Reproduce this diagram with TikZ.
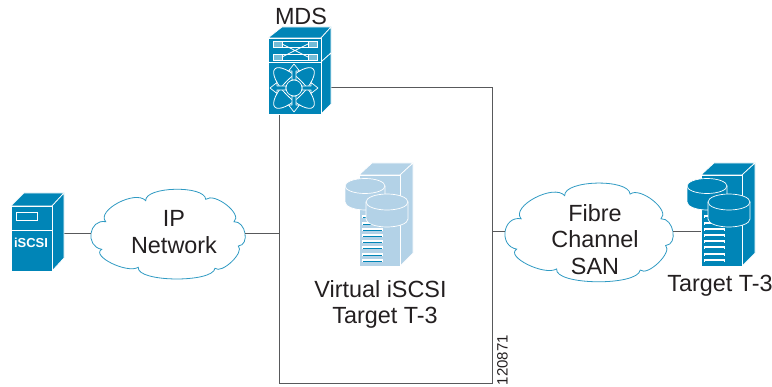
\documentclass[tikz,border=0pt]{standalone}
\usepackage{fontspec}
\setmainfont{Liberation Sans}
\usepackage{xcolor}
\definecolor{ciscoblue}{HTML}{0085B7}
\definecolor{paleblue}{HTML}{B3D2E7}
\definecolor{cloudline}{HTML}{2F9AC3}
\definecolor{linegray}{HTML}{58595B}
\definecolor{inkgray}{HTML}{231F20}
\tikzset{
  label/.style={font=\fontsize{23.4}{26.5}\selectfont,text=inkgray,align=center,inner sep=0pt},
  anchorbox/.style={inner sep=0pt,minimum width=#1},
  link/.style={draw=linegray,line width=1.3pt},
  face/.style={fill=#1,draw=white,line width=0.7pt,line join=round},
  puffs/.pic={
    \draw[draw=cloudline,line width=0.8pt,fill=white] (-62.3,-14.3)
      .. controls (-72.2,-25.6) and (-32.2,-46.6) .. (-22.3,-35.3)
      .. controls (-23.2,-49.6) and (36.8,-51) .. (37.7,-36.7)
      .. controls (46.8,-44) and (75.1,-21.6) .. (66,-14.3)
      .. controls (77.8,-15) and (82.1,9.3) .. (70.3,10)
      .. controls (77,16.1) and (53.7,38.4) .. (47,32.3)
      .. controls (44.8,47.2) and (-31.9,46.2) .. (-29.7,31.3)
      .. controls (-40.8,38) and (-77.4,20) .. (-66.3,13.3)
      .. controls (-83.2,10.4) and (-79.2,-17.2) .. cycle;
  },
  storage/.pic={
    \draw[face=#1] (0,0) -- (13,-12) -- (54,-12) -- (41,0) -- cycle;
    \draw[face=#1] (41,0) -- (54,-12) -- (54,78) -- (41,91) -- cycle;
    \draw[face=#1] (0,0) rectangle (41,91);
    \foreach \y in {40,47,53,59,65,71,78,84} {
      \fill[white] (3,\y) rectangle (24,\y+3.4);
      \fill[ciscoblue] (3.6,\y+1.7) rectangle (23.4,\y+2.8);
    }
    \draw[face=#1] (-14,11) -- (-14,27) arc[start angle=180,end angle=360,x radius=20pt,y radius=8pt] -- (26,11);
    \draw[face=#1] (6,11) ellipse[x radius=20pt,y radius=7.5pt];
    \draw[face=#1] (7,27) -- (7,44) arc[start angle=180,end angle=360,x radius=21pt,y radius=8pt] -- (49,27);
    \draw[face=#1] (28,27) ellipse[x radius=21pt,y radius=8pt];
  },
}
\begin{document}
\begin{tikzpicture}[x=1pt,y=-1pt]
\useasboundingbox (0,0) rectangle (772,387);
\node[draw=linegray,line width=1pt,minimum width=213pt,minimum height=296pt] (vbox) at (385.5,236) {};
\node[anchorbox=41pt,minimum height=65pt] (iscsi) at (31.5,238.5) {};
\node[anchorbox=40pt,minimum height=91pt] (target) at (721,220.5) {};
\node[anchorbox=154pt,minimum height=90pt] (ipcloud) at (168,233.3) {};
\node[anchorbox=168pt,minimum height=100pt] (fccloud) at (589,231.5) {};
\pic at (168,236) {puffs};
\pic[xscale=1.09,yscale=1.1] at (589,234.5) {puffs};
\draw[link] (iscsi.east |- ipcloud.west) -- (ipcloud.west);
\draw[link] (ipcloud.east) -- (vbox.west |- ipcloud.east);
\draw[link] (vbox.east |- fccloud.west) -- (fccloud.west);
\draw[link] (fccloud.east) -- (target.west |- fccloud.east);
\node[label] (iplabel) at (174,232) {IP\\Network};
\node[label] (fclabel) at (595,239.5) {Fibre\\Channel\\SAN};
\node[label] (vboxlabel) at (385,304.5) {Virtual iSCSI\hspace*{9pt}\\Target T-3};
\node[label] (targetlabel) at (720,286) {Target T-3};
\node[label] (mdslabel) at (301,16) {MDS};
\node[font=\fontsize{15}{15}\selectfont,text=inkgray,rotate=90,inner sep=0pt] (tag) at (502.5,360) {120871};
\pic at (359,175) {storage=paleblue};
\pic at (701,175) {storage=ciscoblue};
\draw[face=ciscoblue] (11,206) -- (24,193) -- (64,193) -- (52,206) -- cycle;
\draw[face=ciscoblue] (52,206) -- (64,193) -- (64,258) -- (52,271) -- cycle;
\draw[face=ciscoblue] (11,206) rectangle (52,271);
\draw[draw=white,line width=0.8pt] (16,212) rectangle (37,220);
\draw[white,line width=1pt] (11,231) -- (52,231);
\node[text=white,font=\fontsize{13}{13}\selectfont\bfseries,inner sep=0pt] (iscsilabel) at (31,243) {iSCSI};
\node[anchorbox=53pt,minimum height=76pt] (mds) at (294.5,76) {};
\draw[face=ciscoblue] (268,38) -- (282,27) -- (331,27) -- (321,38) -- cycle;
\draw[face=ciscoblue] (321,38) -- (331,27) -- (331,53) -- (321,62) -- cycle;
\draw[face=ciscoblue] (321,62) -- (331,53) -- (331,104) -- (321,114) -- cycle;
\draw[face=ciscoblue] (268,38) rectangle (321,62);
\draw[face=ciscoblue] (268,62) rectangle (321,114);
\foreach \y in {41,54} {
  \draw[white,line width=0.7pt] (273,\y) rectangle (317,\y+6);
  \draw[white,line width=0.7pt,fill=ciscoblue!55] (273,\y) rectangle (282,\y+6);
  \draw[white,line width=0.7pt,fill=ciscoblue!55] (308,\y) rectangle (317,\y+6);
}
\draw[white,line width=0.7pt] (282,44) -- (308,57) (282,57) -- (308,44);
\draw[white,line width=0.8pt,rotate around={45:(294,88)}] (294,88) ellipse[x radius=27pt,y radius=10pt];
\draw[white,line width=0.8pt,rotate around={-45:(294,88)}] (294,88) ellipse[x radius=27pt,y radius=10pt];
\foreach \a in {0,90,180,270} {
  \draw[face=ciscoblue,rotate around={\a:(294,88)}] (292,80) -- (292,71) -- (288.5,71) -- (294,64) -- (299.5,71) -- (296,71) -- (296,80) -- cycle;
}
\draw[face=ciscoblue] (294,88) circle[radius=8pt];
\end{tikzpicture}
\end{document}
